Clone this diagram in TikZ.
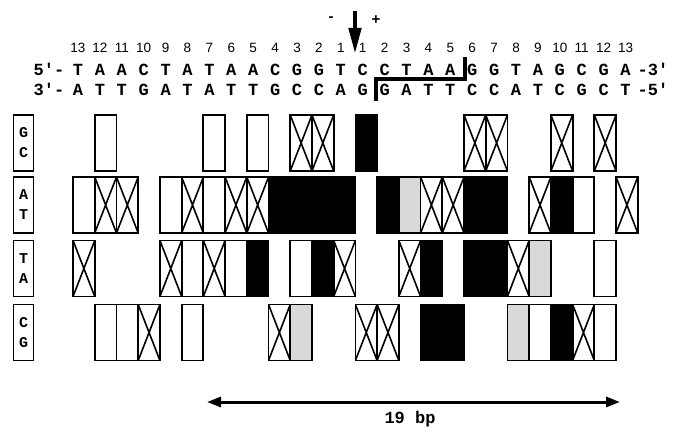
\documentclass[tikz,border=0pt]{standalone}
\usepackage{fontspec}
\setmainfont{Liberation Sans}
\newfontfamily\seqfont{Liberation Mono}
\usetikzlibrary{arrows.meta}
\tikzset{
  cellbase/.style={draw, line width=1.8pt, minimum width=21.72pt, minimum height=56pt, inner sep=0pt, outer sep=0pt},
  ce/.style={cellbase, fill=white},
  cb/.style={cellbase, fill=black},
  cg/.style={cellbase, fill=black!15},
  cx/.style={cellbase, fill=white, path picture={
     \draw[line width=1.6pt] (path picture bounding box.north west) -- (path picture bounding box.south east)
       (path picture bounding box.south west) -- (path picture bounding box.north east);}},
  labbox/.style={draw, line width=1.3pt, minimum width=20pt, minimum height=56pt, inner sep=0pt},
  labtxt/.style={font=\seqfont\bfseries\fontsize{15}{15}\selectfont, inner sep=0pt},
  seq/.style={font=\seqfont\bfseries\fontsize{17}{17}\selectfont, inner sep=0pt},
  num/.style={font=\fontsize{13.5}{13.5}\selectfont, inner sep=0pt},
}
\begin{document}
\begin{tikzpicture}[x=1pt,y=-1pt]
\useasboundingbox[fill=white] (0,0) rectangle (676,427);
% top arrow and signs
\coordinate (atop) at (355,11);
\coordinate (abot) at (355,54);
\draw[line width=4.5pt, -{Triangle[length=26pt,width=12pt]}] (atop) -- (abot);
\node[font=\bfseries\fontsize{15}{15}\selectfont, inner sep=0pt] (minus) at (331,19) {-};
\node[font=\bfseries\fontsize{15}{15}\selectfont, inner sep=0pt] (plus) at (376,20) {+};
% numbers
\foreach \n [count=\i from 0] in {13,12,11,10,9,8,7,6,5,4,3,2,1,1,2,3,4,5,6,7,8,9,10,11,12,13}
  \node[num] (n\i) at ({78+21.9*\i},48) {\n};
% strands
\foreach \ch [count=\i from 0] in {T,A,A,C,T,A,T,A,A,C,G,G,T,C,C,T,A,A,G,G,T,A,G,C,G,A}
  \node[seq] (t\i) at ({78+21.9*\i},69.5) {\ch};
\foreach \ch [count=\i from 0] in {A,T,T,G,A,T,A,T,T,G,C,C,A,G,G,A,T,T,C,C,A,T,C,G,C,T}
  \node[seq] (b\i) at ({78+21.9*\i},89.5) {\ch};
\node[seq] (t5) at (49,69.5) {5'-};
\node[seq] (t3) at (653,69.5) {-3'};
\node[seq] (b3p) at (49,89.5) {3'-};
\node[seq] (b5p) at (653,89.5) {-5'};
% bracket
\coordinate (k1) at (465,57);
\coordinate (k2) at (465,79);
\coordinate (k3) at (376,79);
\coordinate (k4) at (376,101);
\draw[line width=4pt, miter limit=10] (k1) -- (k2) -- (k3) -- (k4);
% row labels
\node[labbox] (lgc) at (23.5,143) {};
\node[labtxt] (lgc1) at (23.5,133) {G};
\node[labtxt] (lgc2) at (23.5,153) {C};
\node[labbox] (lat) at (23.5,205) {};
\node[labtxt] (lat1) at (23.5,195) {A};
\node[labtxt] (lat2) at (23.5,215) {T};
\node[labbox] (lta) at (23.5,268.5) {};
\node[labtxt] (lta1) at (23.5,258.5) {T};
\node[labtxt] (lta2) at (23.5,278.5) {A};
\node[labbox] (lcg) at (23.5,332.5) {};
\node[labtxt] (lcg1) at (23.5,322.5) {C};
\node[labtxt] (lcg2) at (23.5,342.5) {G};
% GC row
\foreach \i/\t in {1/ce,6/ce,8/ce,10/cx,11/cx,13/cb,18/cx,19/cx,22/cx,24/cx}
  \node[\t] (gc\i) at ({83.9+21.72*\i},143) {};
% AT row
\foreach \i/\t in {0/ce,1/cx,2/cx,4/ce,5/cx,6/ce,7/cx,8/cx,9/cb,10/cb,11/cb,12/cb,14/cb,15/cg,16/cx,17/cx,18/cb,19/cb,21/cx,22/cb,23/ce,25/cx}
  \node[\t] (at\i) at ({83.9+21.72*\i},205) {};
% TA row
\foreach \i/\t in {0/cx,4/cx,5/ce,6/cx,7/ce,8/cb,10/ce,11/cb,12/cx,15/cx,16/cb,18/cb,19/cb,20/cx,21/cg,24/ce}
  \node[\t] (ta\i) at ({83.9+21.72*\i},268.5) {};
% CG row
\foreach \i/\t in {1/ce,2/ce,3/cx,5/ce,9/cx,10/cg,13/cx,14/cx,16/cb,17/cb,20/cg,21/ce,22/cb,23/cx,24/ce}
  \node[\t] (cg\i) at ({83.9+21.72*\i},332.5) {};
% bottom span
\coordinate (sl) at (207,402);
\coordinate (sr) at (620,402);
\draw[line width=3pt, {Triangle[length=14pt,width=10pt]}-{Triangle[length=14pt,width=10pt]}] (sl) -- (sr);
\node[seq, anchor=base] (bp) at (410,423) {19 bp};
\end{tikzpicture}
\end{document}
